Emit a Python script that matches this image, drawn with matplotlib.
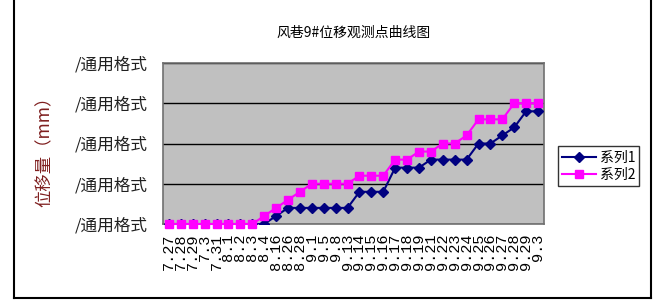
import matplotlib
matplotlib.use('Agg')
import matplotlib.pyplot as plt
from matplotlib.lines import Line2D

plt.rcParams['font.family'] = ['Noto Sans CJK SC', 'DejaVu Sans']

# data
dates = ['7.27', '7.28', '7.29', '7.3', '7.31', '8.1', '8.2', '8.3', '8.4',
         '8.16', '8.26', '8.28', '9.1', '9.5', '9.8', '9.13', '9.14', '9.15',
         '9.16', '9.17', '9.18', '9.19', '9.21', '9.22', '9.23', '9.24',
         '9.25', '9.26', '9.27', '9.28', '9.29', '9.3']
series1 = [0, 0, 0, 0, 0, 0, 0, 0, 0, 2, 4, 4, 4, 4, 4, 4,
           8, 8, 8, 14, 14, 14, 16, 16, 16, 16, 20, 20, 22, 24, 28, 28]
series2 = [0, 0, 0, 0, 0, 0, 0, 0, 2, 4, 6, 8, 10, 10, 10, 10,
           12, 12, 12, 16, 16, 18, 18, 20, 20, 22, 26, 26, 26, 30, 30, 30]
y_ticks = [0, 10, 20, 30, 40]
y_tick_labels = ['/通用格式'] * 5
series_names = ['系列1', '系列2']

W, H = 658, 304
fig = plt.figure(figsize=(W / 100, H / 100), dpi=100)
ax = fig.add_axes([163 / W, (H - 224) / H, 381 / W, 161 / H])
ax.set_facecolor('#C0C0C0')

x = list(range(len(dates)))
ax.plot(x, series1, color='#000080', marker='D', markersize=5, lw=1.5,
        label=series_names[0], zorder=3)
ax.plot(x, series2, color='#FF00FF', marker='s', markersize=6, lw=1.5,
        label=series_names[1], zorder=4, clip_on=False)

ax.set_xlim(-0.5, len(dates) - 0.5)
ax.set_ylim(0, 40)
ax.set_yticks(y_ticks)
ax.set_yticklabels(y_tick_labels, fontsize=12, color='#202020')
ax.yaxis.grid(True, color='black', lw=1)
ax.set_axisbelow(True)
ax.tick_params(axis='y', length=0, pad=11)

ax.set_xticks(x)
ax.set_xticklabels(dates, rotation=90, fontsize=11, family='Liberation Mono')
ax.tick_params(axis='x', length=0, pad=7)

for s in ax.spines.values():
    s.set_color('#707070')
    s.set_linewidth(1.2)

ax.set_title('风巷9#位移观测点曲线图', fontsize=10, pad=19)
fig.text(45 / W, 1 - 147 / H, '位移量（mm）', rotation=90, fontsize=12.5,
         color='#7f1f1f', ha='center', va='center')

leg = ax.legend(loc='center left', bbox_to_anchor=(558 / W, 1 - 166 / H),
                bbox_transform=fig.transFigure, fontsize=10, frameon=True,
                fancybox=False, edgecolor='black', handlelength=2.4,
                borderpad=0.3, labelspacing=0.2, handletextpad=0.3,
                borderaxespad=0)
leg.get_frame().set_linewidth(1)

# chart area border
fig.add_artist(Line2D([14 / W, 14 / W], [(H - 298) / H, 1], color='black', lw=1.5))
fig.add_artist(Line2D([651 / W, 651 / W], [(H - 298) / H, 1], color='black', lw=1.5))
fig.add_artist(Line2D([14 / W, 651 / W], [(H - 298) / H, (H - 298) / H], color='black', lw=1.5))

fig.savefig('out.png', dpi=100)
